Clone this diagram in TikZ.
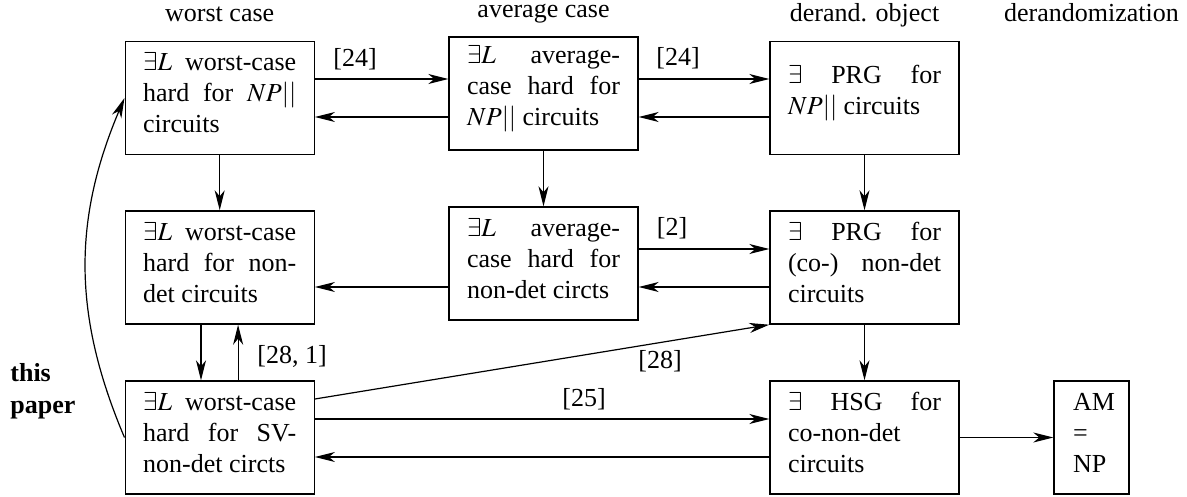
\documentclass[tikz,border=0pt]{standalone}
\usepackage{mathptmx}
\usepackage{fontspec}
\setmainfont{Liberation Serif}
\usetikzlibrary{arrows.meta}
\newcommand\boxendgap{\endgraf\vspace{5pt}}
\begin{document}
\begin{tikzpicture}[x=0.5pt,y=-0.5pt,
  every node/.style={font=\fontsize{13}{15.5}\selectfont},
  box/.style={draw, line width=0.7pt, minimum width=94.5pt, minimum height=56.5pt,
    text width=76.5pt, inner xsep=9pt, inner ysep=0pt, align=justify,
    execute at begin node={\hyphenpenalty=10000\relax\tolerance=10000\relax},
    execute at end node={\boxendgap}},
  lbl/.style={inner sep=0pt},
  head/.style={inner sep=0pt, anchor=base},
  arr/.style={-{Stealth[length=10pt,width=5pt,inset=3pt]}, line width=0.6pt}]
\useasboundingbox (0,0) rectangle (1187,497);
% headers
\node[head] (h1) at (219.7,22) {worst case};
\node[head] (h2) at (543.5,18) {average case};
\node[head] (h3) at (864.5,22) {derand. object};
\node[head] (h4) at (1091.5,22) {derandomization};
% boxes
\node[box] (A1) at (219.7,98) {$\exists L$ worst-case\linebreak hard for $NP||$\linebreak circuits};
\node[box] (B1) at (543.5,93.5) {$\exists L$ average-\linebreak case hard for\linebreak $NP||$ circuits};
\node[box] (C1) at (864.5,98) {$\exists$ PRG for\linebreak $NP||$ circuits};
\node[box] (A2) at (219.7,267.5) {$\exists L$ worst-case\linebreak hard for non-\linebreak det circuits};
\node[box] (B2) at (543.5,263.5) {$\exists L$ average-\linebreak case hard for\linebreak non-det circts};
\node[box] (C2) at (864.5,267.5) {$\exists$ PRG for\linebreak (co-) non-det\linebreak circuits};
\node[box] (A3) at (219.7,437.5) {$\exists L$ worst-case\linebreak hard for SV-\linebreak non-det circts};
\node[box] (C3) at (864.5,437.5) {$\exists$ HSG for\linebreak co-non-det\newline circuits};
\node[box, minimum width=37.5pt, text width=18.5pt, inner xsep=9.5pt, align=left] (D3) at (1091.5,437.5) {AM\\=\\NP};
% side label
\node[head, anchor=base west, font=\fontsize{13}{15.5}\selectfont\bfseries] (t1) at (10,381) {this};
\node[head, anchor=base west, font=\fontsize{13}{15.5}\selectfont\bfseries] (t2) at (10,413) {paper};
% connectors row 1
\draw[arr] ([yshift=9.5pt]A1.east) -- ([yshift=9.5pt]A1.east -| B1.west);
\draw[arr] ([yshift=-9.5pt]A1.east -| B1.west) -- ([yshift=-9.5pt]A1.east);
\draw[arr] ([yshift=9.5pt]C1.west -| B1.east) -- ([yshift=9.5pt]C1.west);
\draw[arr] ([yshift=-9.5pt]C1.west) -- ([yshift=-9.5pt]C1.west -| B1.east);
% verticals
\draw[arr] (A1.south) -- (A2.north);
\draw[arr] (B1.south) -- (B2.north);
\draw[arr] (C1.south) -- (C2.north);
\draw[arr] (C2.south) -- (C3.north);
\draw[arr] ([xshift=-9.35pt]A2.south) -- ([xshift=-9.35pt]A3.north);
\draw[arr] ([xshift=9.2pt]A3.north) -- ([xshift=9.2pt]A2.south);
% row 2
\draw[arr] ([yshift=-9.75pt]A2.east -| B2.west) -- ([yshift=-9.75pt]A2.east);
\draw[arr] ([yshift=9.25pt]C2.west -| B2.east) -- ([yshift=9.25pt]C2.west);
\draw[arr] ([yshift=-9.75pt]C2.west) -- ([yshift=-9.75pt]C2.west -| B2.east);
% row 3
\draw[arr] ([yshift=19.25pt]A3.east) -- (C2.south west);
\draw[arr] ([yshift=9.25pt]A3.east) -- ([yshift=9.25pt]C3.west);
\draw[arr] ([yshift=-9.75pt]C3.west) -- ([yshift=-9.75pt]A3.east);
\draw[arr] (C3.east) -- (D3.west);
% curve
\draw[arr] (A3.west) to[bend left=23] (A1.west);
% labels
\node[lbl] (l1) at (355,59) {[24]};
\node[lbl] (l2) at (678,58) {[24]};
\node[lbl] (l3) at (672,228) {[2]};
\node[lbl] (l4) at (292,356) {[28, 1]};
\node[lbl] (l5) at (660,361) {[28]};
\node[lbl] (l6) at (584,399) {[25]};
\end{tikzpicture}
\end{document}
